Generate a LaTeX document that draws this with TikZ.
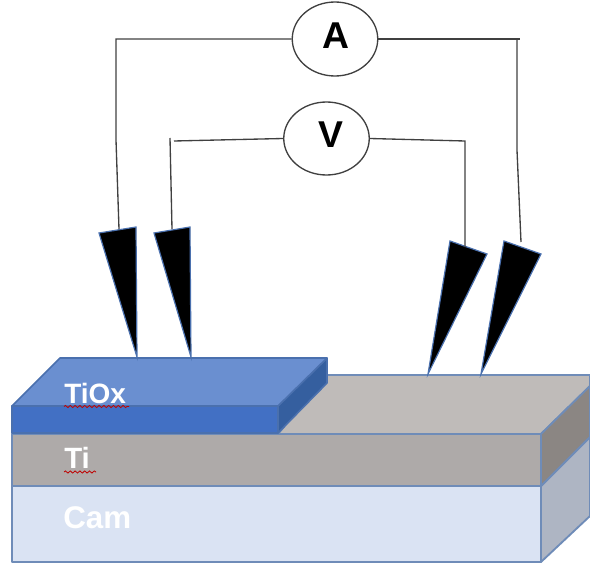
\documentclass[tikz,border=0pt]{standalone}
\usepackage{fontspec}
\setmainfont{Liberation Sans}
\usetikzlibrary{shapes.geometric,decorations.pathmorphing}
\definecolor{edgeblue}{HTML}{6F8CB8}
\definecolor{camfront}{HTML}{DAE3F3}
\definecolor{camside}{HTML}{AEB5C3}
\definecolor{tifront}{HTML}{AEAAA9}
\definecolor{tiside}{HTML}{8B8683}
\definecolor{titop}{HTML}{BFBBB9}
\definecolor{oxfront}{HTML}{4270C4}
\definecolor{oxtop}{HTML}{6A8FD0}
\definecolor{oxside}{HTML}{355F9F}
\definecolor{oxedge}{HTML}{4A70AE}
\definecolor{wire}{HTML}{404040}
\tikzset{
  px/.style={x=0.75pt,y=-0.75pt},
  slab/.style={draw=edgeblue,line width=1.4pt,line join=round},
  oxslab/.style={draw=oxedge,line width=1.2pt,line join=round},
  probe/.style={fill=black,draw=oxedge,line width=0.9pt,line join=miter},
  wireline/.style={draw=wire,line width=1pt},
  meter/.style={ellipse,draw=wire,line width=1pt,fill=white,inner sep=0pt},
  meterlabel/.style={font=\fontsize{28pt}{30pt}\selectfont\bfseries,text=black,inner sep=0pt,anchor=base},
  layerlabel/.style={font=\fontsize{21pt}{24pt}\selectfont\bfseries,text=white,inner sep=0pt,anchor=base west},
  squiggle/.style={draw=red!75!black,line width=0.6pt,decorate,decoration={snake,amplitude=0.8pt,segment length=3.6pt}}
}
\begin{document}
\begin{tikzpicture}[px]
\useasboundingbox (0,0) rectangle (590,567);
% Cam
\path[slab,fill=camside] (541,486) -- (590,437) -- (590,516) -- (541,562) -- cycle;
\path[slab,fill=camfront] (12,486) rectangle (541,562);
% Ti
\path[slab,fill=titop] (278,434) -- (327,375) -- (590,375) -- (590,386) -- (541,434) -- cycle;
\path[slab,fill=tiside] (541,434) -- (590,386) -- (590,437) -- (541,486) -- cycle;
\path[slab,fill=tifront] (12,434) rectangle (541,486);
% TiOx
\path[oxslab,fill=oxside] (278,406) -- (327,358) -- (327,383) -- (278,433) -- cycle;
\path[oxslab,fill=oxtop] (12,406) -- (60,358) -- (327,358) -- (278,406) -- cycle;
\path[oxslab,fill=oxfront] (12,406) rectangle (278,433);
% probes
\path[probe] (99,233) -- (136,227) -- (137,357) -- cycle;
\path[probe] (154,233) -- (190,227) -- (191,357) -- cycle;
\path[probe] (450,241) -- (487,254) -- (428,374) -- cycle;
\path[probe] (504,241) -- (541,254) -- (481,374) -- cycle;
% meters
\node[meter,minimum width=85.5pt*0.75,minimum height=74pt*0.75] (ammeter) at (335,39) {};
\node[meter,minimum width=85.5pt*0.75,minimum height=73pt*0.75] (voltmeter) at (326.5,138.5) {};
\node[meterlabel] (alabel) at (336,49) {A};
\node[meterlabel] (vlabel) at (331,147) {V};
% probe wire ends
\coordinate (p1) at (119,229);
\coordinate (p2) at (172,229);
\coordinate (p3) at (465,247);
\coordinate (p4) at (521,242);
\coordinate (a1) at (116,39);
\coordinate (a2) at (116,140);
\coordinate (a3) at (517,39);
\coordinate (a4) at (517,150);
\coordinate (a5) at (520,39);
\coordinate (v1) at (174,141);
\coordinate (v2) at (170,138);
\coordinate (v3) at (465,141);
% wires
\draw[wireline] (ammeter.west) -- (a1) -- (a2) -- (p1);
\draw[wireline] (ammeter.east) -- (a5);
\draw[wireline] (a3) -- (a4) -- (p4);
\draw[wireline] (voltmeter.west) -- (v1);
\draw[wireline] (v2) -- (p2);
\draw[wireline] (voltmeter.east) -- (v3) -- (p3);
% labels
\node[layerlabel] (tiox) at (64,403) {TiOx};
\node[layerlabel,font=\fontsize{22pt}{24pt}\selectfont\bfseries] (ti) at (64,468) {Ti};
\node[layerlabel,font=\fontsize{23.5pt}{26pt}\selectfont\bfseries] (cam) at (63,528) {Cam};
\coordinate (s1) at (64,406.5);
\coordinate (s2) at (129,406.5);
\coordinate (s3) at (64,472);
\coordinate (s4) at (96,472);
\draw[squiggle] (s1) -- (s2);
\draw[squiggle] (s3) -- (s4);
\end{tikzpicture}
\end{document}
